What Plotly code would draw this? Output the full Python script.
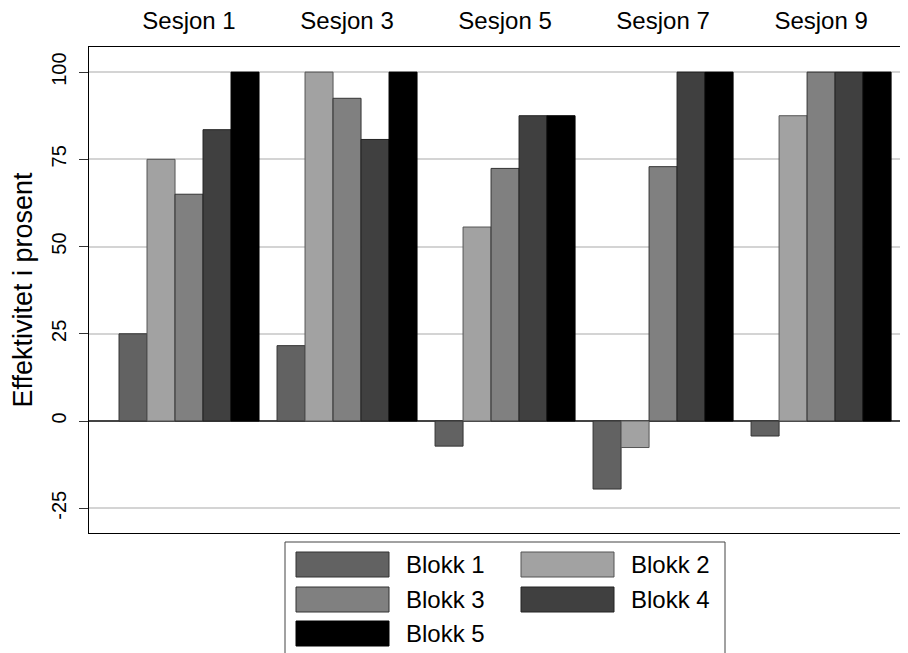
import plotly.graph_objects as go

sessions = ["Sesjon 1", "Sesjon 3", "Sesjon 5", "Sesjon 7", "Sesjon 9"]
blokk_names = ["Blokk 1", "Blokk 2", "Blokk 3", "Blokk 4", "Blokk 5"]
blokk1 = [25.0, 21.6, -7.2, -19.5, -4.3]
blokk2 = [75.0, 100.0, 55.6, -7.6, 87.5]
blokk3 = [65.0, 92.5, 72.4, 72.9, 100.0]
blokk4 = [83.5, 80.7, 87.5, 100.0, 100.0]
blokk5 = [100.0, 100.0, 87.5, 100.0, 100.0]
y_ticks = [-25, 0, 25, 50, 75, 100]

series = [blokk1, blokk2, blokk3, blokk4, blokk5]
fills = ["#626262", "#a2a2a2", "#808080", "#404040", "#000000"]
edges = ["#333333", "#555555", "#333333", "#222222", "#000000"]

FONT = "Arial, Liberation Sans, sans-serif"
OFF = 8  # page body margin
W, H = 908 - OFF, 653 - OFF
ML, MT, MB, MR = 89 - OFF, 47 - OFF, 653 - 533, 0

fig = go.Figure()
for name, vals, fc, ec in zip(blokk_names, series, fills, edges):
    fig.add_trace(go.Bar(
        x=sessions, y=vals, name=name,
        marker=dict(color=fc, line=dict(color=ec, width=1)),
        showlegend=False,
    ))

# reference pixel -> paper helpers
pw = W - ML - MR
ph = H - MT - MB
def px(xpix):
    return (xpix - OFF - ML) / pw
def py(ypix):
    return (H - MB - (ypix - OFF)) / ph

shapes = []
annotations = []
# legend box
shapes.append(dict(type="rect", xref="paper", yref="paper",
                   x0=px(285), x1=px(725), y0=py(662), y1=py(542),
                   line=dict(color="#444444", width=1), fillcolor="white", layer="above"))
legend_pos = [(296, 552, 404), (521, 552, 629),
              (296, 587, 404), (521, 587, 629),
              (296, 621, 404)]
for (sx, sy, tx), name, fc, ec in zip(legend_pos, blokk_names, fills, edges):
    shapes.append(dict(type="rect", xref="paper", yref="paper",
                       x0=px(sx), x1=px(sx + 93), y0=py(sy + 25), y1=py(sy),
                       line=dict(color=ec, width=1), fillcolor=fc, layer="above"))
    annotations.append(dict(text=name, xref="paper", yref="paper",
                            x=px(tx), y=py(sy + 12.5), xanchor="left", yanchor="middle",
                            showarrow=False, font=dict(family=FONT, size=24, color="black")))

fig.update_layout(
    width=W, height=H,
    margin=dict(l=ML, r=MR, t=MT, b=MB, pad=0),
    paper_bgcolor="white", plot_bgcolor="white",
    barmode="group", bargap=0.114, bargroupgap=0,
    font=dict(family=FONT, color="black"),
    shapes=shapes, annotations=annotations,
    xaxis=dict(
        type="category", side="top", range=[-0.633, 4.55],
        showgrid=False, ticks="", tickfont=dict(size=24, color="black"),
        ticklabelstandoff=7,
        showline=True, linecolor="black", linewidth=1, mirror=True,
        fixedrange=True,
    ),
    yaxis=dict(
        range=[-32.1, 107.2], tickvals=y_ticks, ticktext=[str(v) for v in y_ticks],
        tickangle=-90, ticks="outside", ticklen=9, tickcolor="#333333", tickwidth=1,
        tickfont=dict(size=20, color="black"), ticklabelstandoff=5,
        showgrid=True, gridcolor="#d4d4d4", gridwidth=1.5,
        zeroline=True, zerolinecolor="#444444", zerolinewidth=1.5,
        showline=True, linecolor="black", linewidth=1,
        title=dict(text="Effektivitet i prosent", font=dict(size=27, color="black"), standoff=9),
        fixedrange=True,
    ),
)

fig.write_html("out.html")
